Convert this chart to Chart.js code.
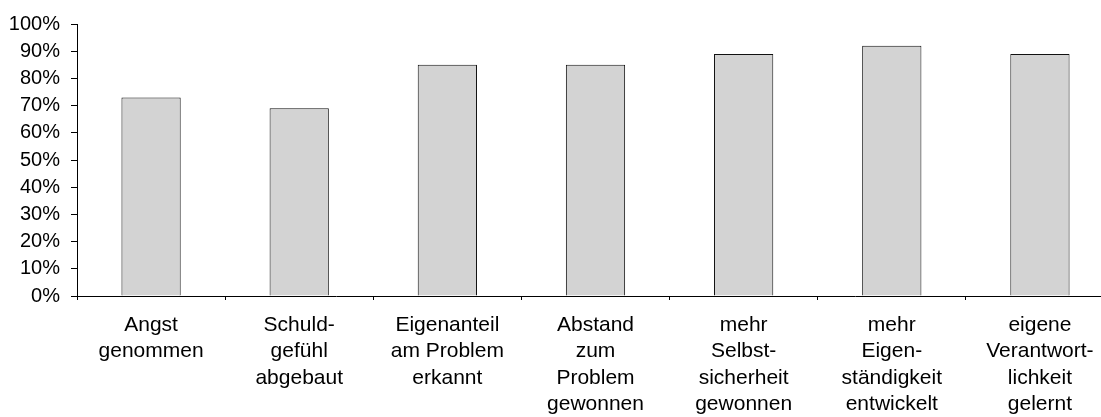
<!DOCTYPE html>
<html>
<head>
<meta charset="utf-8">
<script src="https://cdn.jsdelivr.net/npm/chart.js@4.4.1/dist/chart.umd.min.js"></script>
<style>
    html, body { margin: 0; padding: 0; background: #fff; overflow: hidden; }
    #wrap { width: 1114px; height: 417px; position: relative; }
</style>
</head>
<body>
<div id="wrap"><canvas id="chart"></canvas></div>
<script>
// Kategorien (mehrzeilig wie im Original)
const categories = [
    ['Angst', 'genommen'],
    ['Schuld-', 'gefühl', 'abgebaut'],
    ['Eigenanteil', 'am Problem', 'erkannt'],
    ['Abstand', 'zum', 'Problem', 'gewonnen'],
    ['mehr', 'Selbst-', 'sicherheit', 'gewonnen'],
    ['mehr', 'Eigen-', 'ständigkeit', 'entwickelt'],
    ['eigene', 'Verantwort-', 'lichkeit', 'gelernt']
];
const values = [73, 69, 85, 85, 89, 92, 89];
const yTicks = [0, 10, 20, 30, 40, 50, 60, 70, 80, 90, 100];

const family = "'Liberation Sans', Arial, sans-serif";

new Chart(document.getElementById('chart'), {
    type: 'bar',
    data: {
        labels: categories,
        datasets: [{
            data: values,
            backgroundColor: '#d3d3d3',
            borderColor: '#111',
            borderWidth: 1,
            barPercentage: 0.4,
            categoryPercentage: 1
        }]
    },
    options: {
        responsive: true,
        maintainAspectRatio: false,
        animation: false,
        layout: { padding: { top: 24, left: 0, right: 0, bottom: 0 } },
        plugins: { legend: { display: false }, tooltip: { enabled: false } },
        scales: {
            x: {
                offset: true,
                grid: { offset: true, drawOnChartArea: false, color: '#000', tickLength: 4 },
                border: { color: '#000', width: 1 },
                ticks: {
                    color: '#000',
                    font: { family: family, size: 21, lineHeight: 1.26 },
                    padding: 12,
                    maxRotation: 0,
                    autoSkip: false
                },
                afterFit: function (scale) { scale.height = 121; }
            },
            y: {
                min: 0,
                max: 100,
                afterBuildTicks: function (scale) {
                    scale.ticks = yTicks.map(v => ({ value: v }));
                },
                grid: { drawOnChartArea: false, color: '#000', tickLength: 6 },
                border: { color: '#000', width: 1 },
                ticks: {
                    color: '#000',
                    font: { family: family, size: 20 },
                    padding: 11,
                    callback: function (value) { return value + '%'; }
                },
                afterFit: function (scale) { scale.width = 77; }
            }
        }
    }
});
</script>
</body>
</html>
